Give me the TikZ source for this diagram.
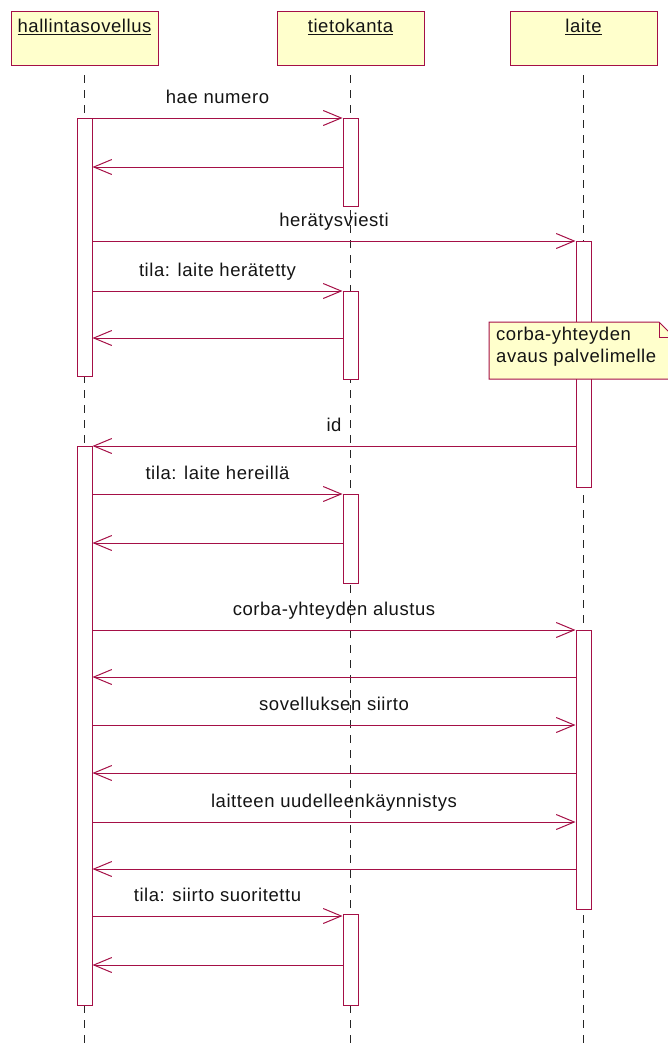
\documentclass[tikz,border=0pt]{standalone}
\usepackage{fontspec}
\setmainfont{Liberation Sans}[LetterSpace=3]
\usetikzlibrary{arrows.meta}
\definecolor{umlred}{RGB}{165,15,70}
\definecolor{notefill}{RGB}{255,255,204}
\definecolor{inkc}{RGB}{20,20,20}
\begin{document}
\begin{tikzpicture}[x=1pt,y=-1pt,
  font=\fontsize{18.5}{22}\selectfont, text=inkc,
  headbox/.style={draw=umlred, line width=1pt, fill=notefill, anchor=north,
    minimum width=147pt, inner ysep=0pt, text height=21pt, text depth=33pt},
  actbox/.style={draw=umlred, line width=1pt, fill=white, anchor=north,
    minimum width=15pt, inner sep=0pt},
  lifeline/.style={draw=black!85, line width=1pt, dash pattern=on 8pt off 7pt},
  msg/.style={draw=umlred, line width=1pt,
    -{Straight Barb[length=18pt,width=15pt,line width=1pt]}},
  msglabel/.style={midway, anchor=base, yshift=15pt, inner sep=0pt},
]
\useasboundingbox (0,0) rectangle (667,1044);

% object headers
\node[headbox] (hb1) at (84.5,11) {\underline{hallintasovellus}};
\node[headbox] (hb2) at (350.5,11) {\underline{tietokanta}};
\node[headbox] (hb3) at (583.5,11) {\underline{laite}};

\coordinate (bottom) at (0,1044);

% lifelines
\draw[lifeline] ([yshift=-9pt]hb1.south) -- (hb1.south |- bottom);
\draw[lifeline] ([yshift=-9pt]hb2.south) -- (hb2.south |- bottom);
\draw[lifeline] ([yshift=-9pt]hb3.south) -- (hb3.south |- bottom);

% activation bars
\node[actbox, minimum height=258pt] (a1) at (84.5,118) {};
\node[actbox, minimum height=559pt] (a2) at (84.5,446) {};
\node[actbox, minimum height=88pt] (t1) at (350.5,118) {};
\node[actbox, minimum height=88pt] (t2) at (350.5,291) {};
\node[actbox, minimum height=89pt] (t3) at (350.5,494) {};
\node[actbox, minimum height=91pt] (t4) at (350.5,914) {};
\node[actbox, minimum height=246pt] (l1) at (583.5,241) {};
\node[actbox, minimum height=279pt] (l2) at (583.5,630) {};

% note attached to laite, with a folded corner
\coordinate (nTL) at (489,322);
\coordinate (nBR) at (674,379);
\filldraw[draw=umlred, line width=1pt, fill=notefill]
  (nTL) -- (659,322) -- (nBR |- 0,337) -- (nBR) -- (nTL |- nBR) -- cycle;
\draw[umlred, line width=1pt] (659,322) -- (659,337) -- (nBR |- 0,337);
\node[anchor=north west, inner sep=0pt, align=left]
  (note) at (496,327) {corba-yhteyden\\avaus palvelimelle};

% messages
\draw[msg] (a1.east |- 0,118) -- (t1.west |- 0,118) node[msglabel] {hae numero};
\draw[msg] (t1.west |- 0,167) -- (a1.east |- 0,167);
\draw[msg] (a1.east |- 0,241) -- (l1.west |- 0,241) node[msglabel] {herätysviesti};
\draw[msg] (a1.east |- 0,291) -- (t2.west |- 0,291) node[msglabel] {tila: laite herätetty};
\draw[msg] (t2.west |- 0,338) -- (a1.east |- 0,338);
\draw[msg] (l1.west |- 0,446) -- (a2.east |- 0,446) node[msglabel] {id};
\draw[msg] (a2.east |- 0,494) -- (t3.west |- 0,494) node[msglabel] {tila: laite hereillä};
\draw[msg] (t3.west |- 0,543) -- (a2.east |- 0,543);
\draw[msg] (a2.east |- 0,630) -- (l2.west |- 0,630) node[msglabel] {corba-yhteyden alustus};
\draw[msg] (l2.west |- 0,677) -- (a2.east |- 0,677);
\draw[msg] (a2.east |- 0,725) -- (l2.west |- 0,725) node[msglabel] {sovelluksen siirto};
\draw[msg] (l2.west |- 0,773) -- (a2.east |- 0,773);
\draw[msg] (a2.east |- 0,822) -- (l2.west |- 0,822) node[msglabel] {laitteen uudelleenkäynnistys};
\draw[msg] (l2.west |- 0,869) -- (a2.east |- 0,869);
\draw[msg] (a2.east |- 0,916) -- (t4.west |- 0,916) node[msglabel] {tila: siirto suoritettu};
\draw[msg] (t4.west |- 0,965) -- (a2.east |- 0,965);
\end{tikzpicture}
\end{document}
